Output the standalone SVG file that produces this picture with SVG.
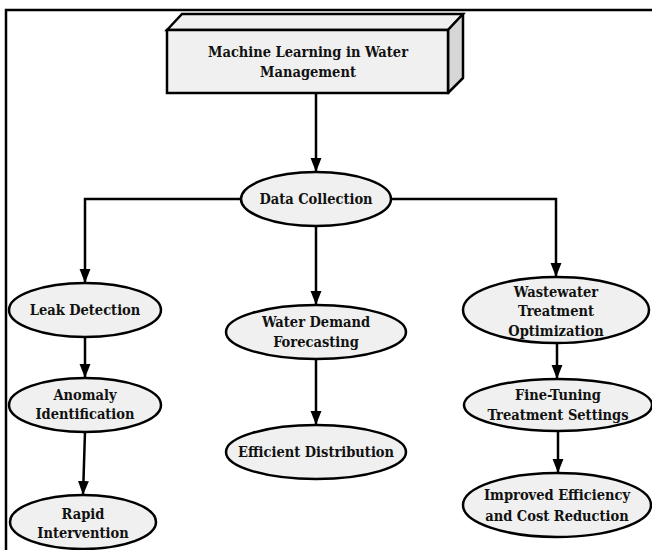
<svg xmlns="http://www.w3.org/2000/svg" width="652" height="550" viewBox="0 0 652 550">
<style>
.n{fill:#f0f0f0;stroke:#000;stroke-width:2.5}
.t{font-family:'DejaVu Serif',serif;font-stretch:condensed;font-weight:700;font-size:14.5px;fill:#111;text-anchor:middle}
.c{fill:none;stroke:#000;stroke-width:2.5}
</style>
<defs>
<marker id="ah" markerUnits="userSpaceOnUse" markerWidth="14" markerHeight="20" refX="18" refY="7" viewBox="0 0 18 14" orient="auto">
<path d="M0,0 L18,7 L0,14 Z" fill="#000"/>
</marker>
</defs>
<rect width="652" height="550" fill="#fff"/>
<path d="M6,550 L6,10 L652,10" fill="none" stroke="#000" stroke-width="2.5"/>
<g id="connectors">
<line class="c" x1="316" y1="93" x2="316" y2="172" marker-end="url(#ah)"/>
<polyline class="c" points="241,199 85,199 85,283" marker-end="url(#ah)"/>
<line class="c" x1="316" y1="226" x2="316" y2="305" marker-end="url(#ah)"/>
<polyline class="c" points="391,199 556,199 556,277" marker-end="url(#ah)"/>
<line class="c" x1="85" y1="337" x2="85" y2="378" marker-end="url(#ah)"/>
<line class="c" x1="85" y1="432" x2="83" y2="495" marker-end="url(#ah)"/>
<line class="c" x1="316" y1="359" x2="316" y2="425" marker-end="url(#ah)"/>
<line class="c" x1="557" y1="342" x2="557" y2="379" marker-end="url(#ah)"/>
<line class="c" x1="558" y1="431" x2="558" y2="473" marker-end="url(#ah)"/>
</g>
<g id="root">
<polygon class="n" points="167,30 182,14 463,14 448,30"/>
<polygon points="448,30 463,14 463,78 448,93" fill="#d6d6d6" stroke="#000" stroke-width="2.5" stroke-linejoin="round"/>
<rect class="n" x="167" y="30" width="281" height="63"/>
<text class="t" x="308" y="57">Machine Learning in Water</text>
<text class="t" x="308" y="77">Management</text>
</g>
<g id="data-collection">
<ellipse class="n" cx="316" cy="199" rx="75" ry="27"/>
<text class="t" x="316" y="204">Data Collection</text>
</g>
<g id="leak-detection">
<ellipse class="n" cx="85" cy="310" rx="76" ry="27"/>
<text class="t" x="85" y="315">Leak Detection</text>
</g>
<g id="anomaly-identification">
<ellipse class="n" cx="85" cy="405" rx="76" ry="27"/>
<text class="t" x="85" y="400">Anomaly</text>
<text class="t" x="85" y="419">Identification</text>
</g>
<g id="rapid-intervention">
<ellipse class="n" cx="83" cy="522" rx="73" ry="27"/>
<text class="t" x="83" y="519">Rapid</text>
<text class="t" x="83" y="538">Intervention</text>
</g>
<g id="water-demand">
<ellipse class="n" cx="316" cy="332" rx="90" ry="27"/>
<text class="t" x="316" y="327">Water Demand</text>
<text class="t" x="316" y="347">Forecasting</text>
</g>
<g id="efficient-distribution">
<ellipse class="n" cx="316" cy="452" rx="90" ry="27"/>
<text class="t" x="316" y="457">Efficient Distribution</text>
</g>
<g id="wastewater">
<ellipse class="n" cx="556" cy="310" rx="93" ry="33"/>
<text class="t" x="556" y="297">Wastewater</text>
<text class="t" x="556" y="316">Treatment</text>
<text class="t" x="556" y="336">Optimization</text>
</g>
<g id="fine-tuning">
<ellipse class="n" cx="558" cy="405" rx="94" ry="26"/>
<text class="t" x="558" y="400">Fine-Tuning</text>
<text class="t" x="558" y="420">Treatment Settings</text>
</g>
<g id="improved-efficiency">
<ellipse class="n" cx="557" cy="505" rx="94" ry="32"/>
<text class="t" x="557" y="500">Improved Efficiency</text>
<text class="t" x="557" y="521">and Cost Reduction</text>
</g>
</svg>
